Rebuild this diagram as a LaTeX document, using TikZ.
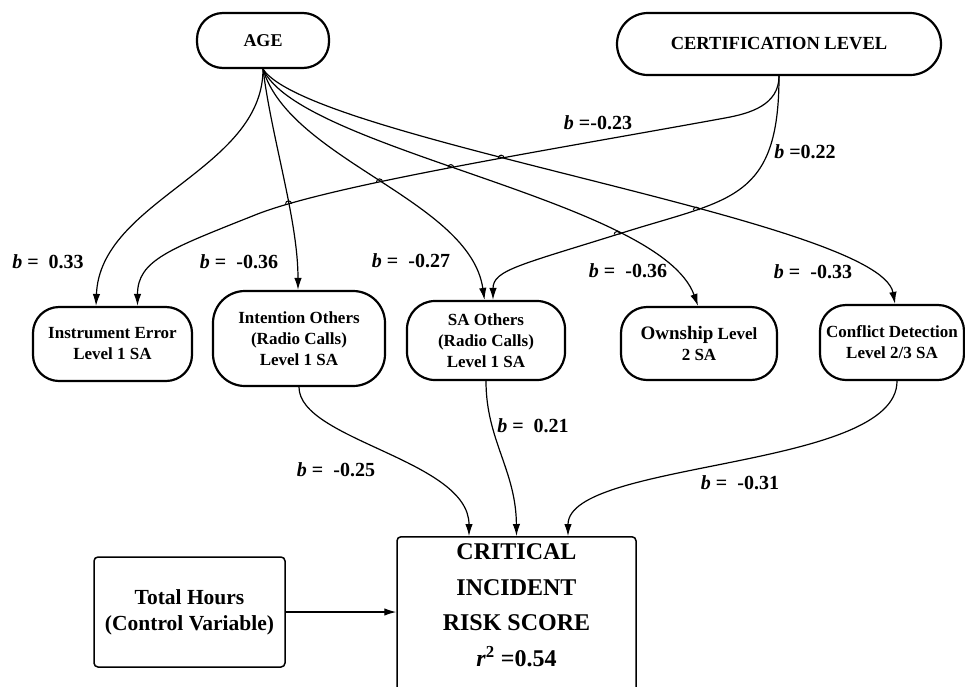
\documentclass[tikz,border=0pt]{standalone}
\usepackage{fontspec}
\setmainfont{Liberation Serif}
\usetikzlibrary{arrows.meta,intersections}
\newcommand\myhop[2]{%
  \path[name intersections={of=#1 and #2, name=X}];
  \draw[hop] ([xshift=-3pt]X-1) arc[start angle=180, end angle=0, radius=3pt];}
\begin{document}
\begin{tikzpicture}[x=1pt,y=-1pt,
  rnode/.style={draw, line width=2.2pt, rounded corners=26pt, inner sep=0pt, align=center,
    font=\fontsize{17}{21}\selectfont\bfseries},
  plainbox/.style={draw, line width=1.5pt, rounded corners=4pt, inner sep=0pt, align=center},
  conn/.style={line width=1.2pt, -{Latex[length=12pt,width=7.5pt]}},
  coef/.style={font=\fontsize{20}{22}\selectfont\bfseries, inner sep=0pt},
  hop/.style={line width=1pt}]
\useasboundingbox (0,0) rectangle (965,686);
\clip (0,0) rectangle (965,686);

% top nodes
\node[rnode, minimum width=132pt, minimum height=55pt, rounded corners=26pt,
  font=\fontsize{18}{21}\selectfont\bfseries] (age) at (263,40.5) {AGE};
\node[rnode, minimum width=324pt, minimum height=62pt, rounded corners=31pt,
  font=\fontsize{18.5}{21}\selectfont\bfseries] (cert) at (779,44) {CERTIFICATION LEVEL};

% middle nodes
\node[rnode, minimum width=159pt, minimum height=74pt] (ie) at (112.5,344) {Instrument Error\\Level 1 SA};
\node[rnode, minimum width=172pt, minimum height=95pt, rounded corners=32pt] (io) at (299,338.5) {Intention Others\\(Radio Calls)\\Level 1 SA};
\node[rnode, minimum width=158pt, minimum height=79pt, rounded corners=28pt] (sao) at (486,340.5) {SA Others\\(Radio Calls)\\Level 1 SA};
\node[rnode, minimum width=156pt, minimum height=73pt] (own) at (699,343.5) {{\fontsize{19}{21}\selectfont Ownship} Level\\2 SA};
\node[rnode, minimum width=144pt, minimum height=75pt] (cd) at (892,342.5) {Conflict Detection\\Level 2/3 SA};

% bottom nodes
\node[plainbox, minimum width=191pt, minimum height=110pt,
  font=\fontsize{21.5}{26}\selectfont\bfseries] (th) at (189.5,612) {Total Hours\\(Control Variable)};
\node[plainbox, minimum width=239pt, minimum height=170pt, anchor=north] (cr) at (516.5,536) {};
\node[font=\fontsize{24}{35.5}\selectfont\bfseries, align=center, inner sep=0pt] (crt) at (516.5,605)
  {CRITICAL\\INCIDENT\\RISK SCORE\\\textit{r}\textsuperscript{2} =0.54};

% AGE connectors
\draw[conn] (age.south) .. controls (263,170) and (100,200) .. ([xshift=-16.5pt]ie.north);
\draw[conn, name path=a2] (age.south) .. controls (272,140) and (298,220) .. ([xshift=-1pt]io.north);
\draw[conn, name path=a3] (age.south) .. controls (290,160) and (470,200) .. ([xshift=-1.5pt]sao.north);
\draw[conn, name path=a4] (age.south) .. controls (300,150) and (660,200) .. ([xshift=-1pt]own.north);
\draw[conn, name path=a5] (age.south) .. controls (310,140) and (880,220) .. ([xshift=3pt]cd.north);

% CERTIFICATION connectors
\draw[conn, name path=c1] (cert.south) .. controls (779,105) and (750,113.5) .. (725,118)
  .. controls (550,150) and (330,185) .. (255,215)
  .. controls (170,249) and (137.5,260) .. ([xshift=25pt]ie.north);
\draw[conn, name path=c2] (cert.south) .. controls (779,200) and (730,199) .. (625,232)
  .. controls (520,265) and (493,270) .. ([xshift=7pt]sao.north);

% line hops at crossings
\myhop{a2}{c1}
\myhop{a3}{c1}
\myhop{a4}{c1}
\myhop{a5}{c1}
\myhop{a4}{c2}
\myhop{a5}{c2}

% to outcome
\draw[conn] (io.south) .. controls (299,440) and (469,460) .. ([xshift=-47.5pt]cr.north);
\draw[conn] (sao.south) .. controls (486,440) and (516,470) .. (cr.north);
\draw[conn] ([xshift=5pt]cd.south) .. controls (897,470) and (568,460) .. ([xshift=51.5pt]cr.north);
\draw[conn] (th.east) -- (th.east -| cr.west);

% coefficient labels
\node[coef] (l1) at (598,123) {\textit{b} =-0.23};
\node[coef] (l2) at (805,152) {\textit{b} =0.22};
\node[coef] (l3) at (48,262) {\textit{b} =\ \ 0.33};
\node[coef] (l4) at (239,262) {\textit{b} =\ \ -0.36};
\node[coef] (l5) at (411,261) {\textit{b} =\ \ -0.27};
\node[coef] (l6) at (628,271) {\textit{b} =\ \ -0.36};
\node[coef] (l7) at (813,272) {\textit{b} =\ \ -0.33};
\node[coef] (l8) at (533,426) {\textit{b} =\ \ 0.21};
\node[coef] (l9) at (336,470) {\textit{b} =\ \ -0.25};
\node[coef] (l10) at (740,483) {\textit{b} =\ \ -0.31};
\end{tikzpicture}
\end{document}
